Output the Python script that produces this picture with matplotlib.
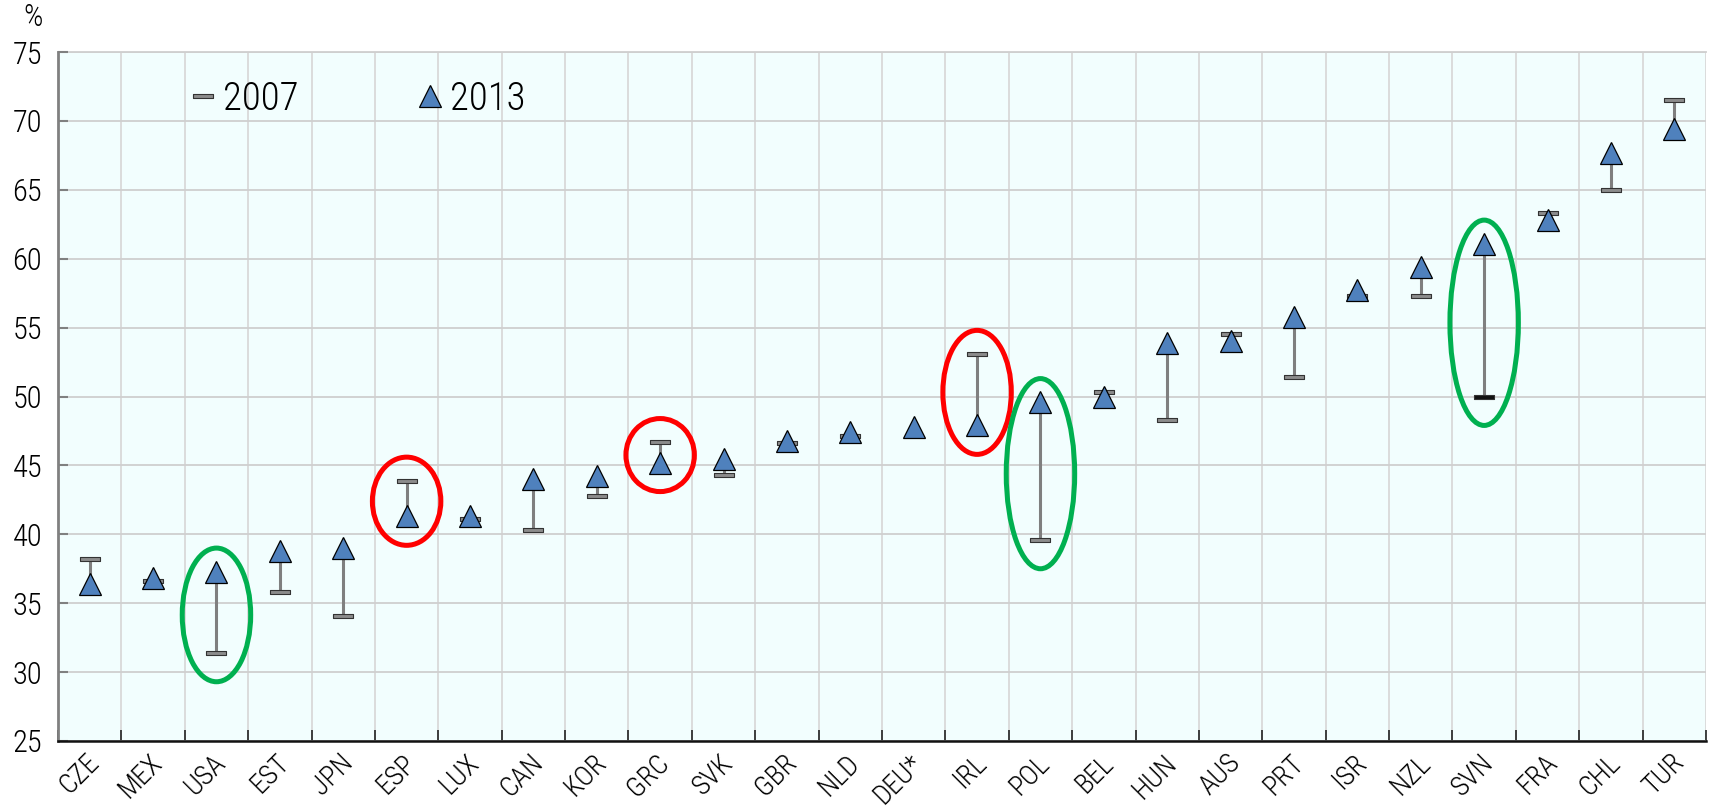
import numpy as np
import matplotlib
matplotlib.use("Agg")
import matplotlib.pyplot as plt
from matplotlib.path import Path
from matplotlib.patches import Ellipse
from matplotlib.lines import Line2D
import matplotlib.transforms as mtransforms

# ---------------- data ----------------
countries = ["CZE", "MEX", "USA", "EST", "JPN", "ESP", "LUX", "CAN", "KOR", "GRC",
             "SVK", "GBR", "NLD", "DEU*", "IRL", "POL", "BEL", "HUN", "AUS", "PRT",
             "ISR", "NZL", "SVN", "FRA", "CHL", "TUR"]
values_2007 = [38.2, 36.6, 31.4, 35.8, 34.1, 43.9, 41.1, 40.3, 42.8, 46.7,
               44.3, 46.6, 47.1, np.nan, 53.1, 39.6, 50.3, 48.3, 54.5, 51.4,
               57.3, 57.3, 50.0, 63.3, 65.0, 71.5]
values_2013 = [36.4, 36.8, 37.3, 38.8, 39.0, 41.3, 41.3, 44.0, 44.2, 45.2,
               45.5, 46.8, 47.4, 47.8, 47.9, 49.6, 50.0, 53.9, 54.0, 55.8,
               57.7, 59.4, 61.1, 62.8, 67.7, 69.4]
series_labels = ["2007", "2013"]
highlight_red = ["ESP", "GRC", "IRL"]
highlight_green = ["USA", "POL", "SVN"]
y_ticks = [25, 30, 35, 40, 45, 50, 55, 60, 65, 70, 75]

# ---------------- fonts ----------------
plt.rcParams["font.family"] = ["Roboto Condensed", "Archivo Narrow", "Liberation Sans", "DejaVu Sans"]
plt.rcParams["font.weight"] = 300

# ---------------- figure ----------------
fig = plt.figure(figsize=(17.09, 8.10), dpi=100)
ax = fig.add_axes([58 / 1709, 1 - 741 / 810, (1706 - 58) / 1709, (741 - 52) / 810])
ax.set_facecolor("#F2FEFE")

x = np.arange(len(countries))
v07 = np.array(values_2007, dtype=float)
v13 = np.array(values_2013, dtype=float)

# connecting lines
mask = ~np.isnan(v07)
ax.vlines(x[mask], v07[mask], v13[mask], color="#7F7F7F", lw=2.2, zorder=3)

# 2007 marker: flat rectangle
bar_marker = Path([(-1, -0.22), (1, -0.22), (1, 0.22), (-1, 0.22), (-1, -0.22)],
                  [Path.MOVETO, Path.LINETO, Path.LINETO, Path.LINETO, Path.CLOSEPOLY])
dark_2007 = ["SVN"]
for i, c in enumerate(countries):
    if np.isnan(v07[i]):
        continue
    fc = "#111111" if c in dark_2007 else "#8C8C8C"
    ax.plot(x[i], v07[i], marker=bar_marker, ms=14, mfc=fc, mec="#333333",
            mew=0.8, ls="none", zorder=4)

# 2013 triangles
ax.plot(x, v13, marker="^", ms=15.5, mfc="#4F81BD", mec="black", mew=0.9,
        ls="none", zorder=5)

# highlight ellipses
for names, col in ((highlight_red, "#FF0000"), (highlight_green, "#00B050")):
    for n in names:
        i = countries.index(n)
        lo, hi = min(v07[i], v13[i]), max(v07[i], v13[i])
        h = max(hi - lo + 3.8, 4.7)
        e = Ellipse((x[i], (lo + hi) / 2 - 0.2), width=1.08, height=h, fill=False,
                    ec=col, lw=3.6, zorder=6)
        ax.add_patch(e)

# axes
ax.set_xlim(-0.5, len(countries) - 0.5)
ax.set_ylim(25, 75)
ax.set_yticks(y_ticks)
ax.set_yticklabels([str(t) for t in y_ticks])
ax.set_xticks(x)
ax.set_xticklabels(countries)
ax.set_xticks(np.arange(len(countries) + 1) - 0.5, minor=True)

ax.tick_params(axis="y", which="major", direction="in", length=7, width=1.5,
               color="#808080", labelsize=22, pad=11.5)
ax.tick_params(axis="x", which="major", length=0, labelsize=20, pad=6)
ax.tick_params(axis="x", which="minor", direction="in", length=8, width=1.2,
               color="#222222")

for lab in ax.get_xticklabels():
    lab.set_rotation(45)
    lab.set_rotation_mode("anchor")
    lab.set_ha("right")
    lab.set_va("top")
    lab.set_transform(lab.get_transform() +
                      mtransforms.ScaledTranslation(-4 / 100, 0, fig.dpi_scale_trans))

ax.grid(True, axis="y", which="major", color="#CFCFCF", lw=1.3, zorder=0)
ax.grid(True, axis="x", which="minor", color="#D9D9D9", lw=1.3, zorder=0)
ax.set_axisbelow(True)

for s in ("top", "right"):
    ax.spines[s].set_visible(False)
ax.spines["left"].set_color("#808080")
ax.spines["left"].set_linewidth(2)
ax.spines["bottom"].set_color("#111111")
ax.spines["bottom"].set_linewidth(1.8)
ax.axhline(75, color="#CFCFCF", lw=1.3, zorder=0, clip_on=False)

fig.text(33 / 1709, 1 - 18 / 810, "%", fontsize=22, ha="center", va="center")

# legend
handles = [Line2D([], [], marker=bar_marker, ms=14, mfc="#8C8C8C", mec="#333333",
                  mew=0.8, ls="none"),
           Line2D([], [], marker="^", ms=15.5, mfc="#4F81BD", mec="black",
                  mew=0.9, ls="none")]
ax.legend(handles, series_labels, loc="center left", bbox_to_anchor=(0.081, 0.932),
          ncol=2, frameon=False, fontsize=28, handlelength=0.6, handletextpad=0.2,
          columnspacing=3.1, borderpad=0, borderaxespad=0)

fig.savefig("out.png", dpi=100)
